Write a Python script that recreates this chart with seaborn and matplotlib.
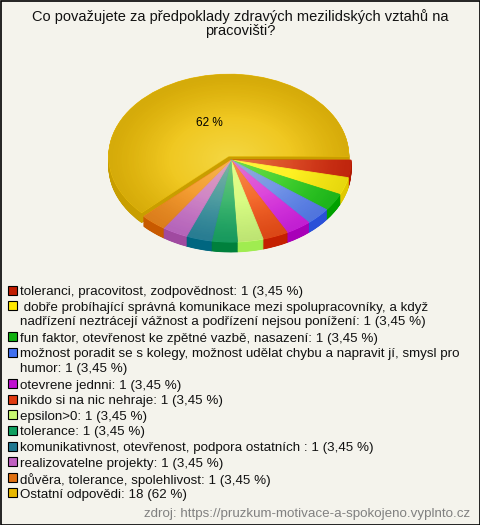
import matplotlib
matplotlib.use("Agg")
import matplotlib.pyplot as plt
from matplotlib.patches import Rectangle
import numpy as np
import seaborn as sns

sns.set_theme(style="white")
plt.rcParams['font.family'] = ['Liberation Sans', 'DejaVu Sans']

title = "Co považujete za předpoklady zdravých mezilidských vztahů na\npracovišti?"
labels = [
    "toleranci, pracovitost, zodpovědnost",
    " dobře probíhající správná komunikace mezi spolupracovníky, a když\nnadřízení neztrácejí vážnost a podřízení nejsou ponížení",
    "fun faktor, otevřenost ke zpětné vazbě, nasazení",
    "možnost poradit se s kolegy, možnost udělat chybu a napravit jí, smysl pro\nhumor",
    "otevrene jednni",
    "nikdo si na nic nehraje",
    "epsilon>0",
    "tolerance",
    "komunikativnost, otevřenost, podpora ostatních ",
    "realizovatelne projekty",
    "důvěra, tolerance, spolehlivost",
    "Ostatní odpovědi",
]
counts = [1, 1, 1, 1, 1, 1, 1, 1, 1, 1, 1, 18]
percents = ["3,45 %"] * 11 + ["62 %"]
top_colors = ["#D42A10", "#FFEF10", "#22C81E", "#5A82F5", "#D624E8", "#F2501A",
              "#D2FC80", "#1CAA68", "#2E8AA2", "#C870CE", "#F28C20", "#EDBE0C"]
side_colors = ["#B01800", "#E0C800", "#00A000", "#2A50D8", "#A800B8", "#C42000",
               "#A0EC50", "#00803C", "#006680", "#A04AA0", "#C85A00", "#C89E00"]
legend_colors = ["#C01C00", "#FFE800", "#10B010", "#4070F0", "#C010D0", "#E03A10",
                 "#C8F870", "#10A060", "#207890", "#C060C0", "#E07010", "#E8B800"]
source = "zdroj: https://pruzkum-motivace-a-spokojeno.vyplnto.cz"

W, H = 480, 525
fig = plt.figure(figsize=(W / 100, H / 100), dpi=100)
fig.patch.set_facecolor("#F4F3EC")

ax = fig.add_axes([0, 0, 1, 1])
ax.set_facecolor("none")
ax.axis("off")

cx, cy, rx, ry = 231, 160, 120, 82
depth = 10 / ry
explode = [0] * (len(counts) - 1) + [0.05]

n_steps = 24
for i in range(n_steps, 0, -1):
    d = depth * i / n_steps
    w, _ = ax.pie(counts, colors=side_colors, startangle=0, counterclock=False,
                  explode=explode, center=(0, -d), radius=1,
                  wedgeprops=dict(linewidth=0.6), normalize=True)
    for p in w:
        p.set_edgecolor(p.get_facecolor())

wedges, _, autotexts = ax.pie(
    counts, colors=top_colors, startangle=0, counterclock=False,
    explode=explode, center=(0, 0), radius=1,
    autopct=lambda p: "62 %" if p > 50 else "", pctdistance=0.43,
    wedgeprops=dict(linewidth=0.6), textprops=dict(fontsize=8.5, color="black"))
for p in wedges:
    p.set_edgecolor(p.get_facecolor())

# radial shading on the top face, clipped to each wedge
gx = np.linspace(-1.2, 1.2, 300)
GX, GY = np.meshgrid(gx, gx)
R = np.sqrt(GX ** 2 + GY ** 2)
light = np.zeros((300, 300, 4))
light[..., 0] = 1.0
light[..., 1] = 1.0
light[..., 2] = 0.6
light[..., 3] = 0.40 * np.clip(1 - R, 0, 1) ** 1.3
dark = np.zeros((300, 300, 4))
dark[..., 3] = 0.10 * np.clip((R - 0.5) / 0.5, 0, 1)
for p in wedges:
    for arr in (light, dark):
        im = ax.imshow(arr, extent=(-1.2, 1.2, -1.2, 1.2), origin="lower",
                       zorder=5, aspect="auto", interpolation="bilinear")
        im.set_clip_path(p)
for t in autotexts:
    t.set_zorder(6)

ax.set_xlim(-cx / rx, (W - cx) / rx)
ax.set_ylim(-(H - cy) / ry, cy / ry)
ax.set_aspect("auto")

fig.text(240 / W, 1 - 9 / H, title, ha="center", va="top", fontsize=10.5,
         color="#111111", linespacing=1.0)

# legend
line_h = 15.6
y = 290
for lab, cnt, pct, col in zip(labels, counts, percents, legend_colors):
    txt = f"{lab}: {cnt} ({pct})"
    nlines = txt.count("\n") + 1
    fig.patches.append(Rectangle((8 / W, 1 - (y + 4.5) / H), 9 / W, 9 / H,
                                 transform=fig.transFigure, facecolor=col,
                                 edgecolor="black", linewidth=0.8, figure=fig))
    fig.text(20 / W, 1 - (y - 4.0) / H, txt, ha="left", va="top", fontsize=9.6,
             color="#111111", linespacing=1.27)
    y += line_h * nlines

fig.text(470 / W, 1 - 514 / H, source, ha="right", va="center", fontsize=9.6, color="#808080")

fig.patches.append(Rectangle((0.5 / W, 0.5 / H), (W - 1) / W, (H - 1) / H,
                             transform=fig.transFigure, facecolor="none",
                             edgecolor="black", linewidth=1.2, figure=fig))

fig.savefig("out.png", dpi=100, facecolor=fig.get_facecolor())
